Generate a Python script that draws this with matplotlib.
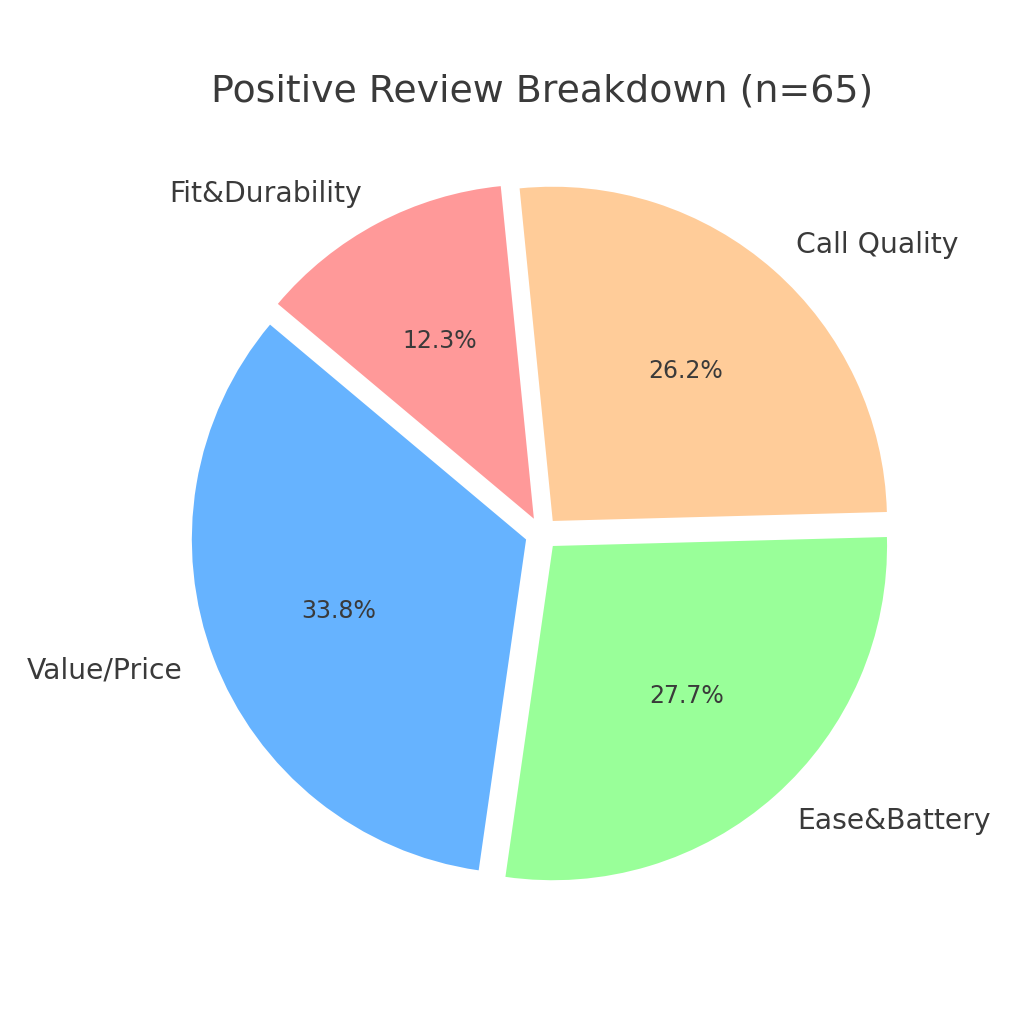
import matplotlib.pyplot as plt

# data
labels = ["Value/Price", "Ease&Battery", "Call Quality", "Fit&Durability"]
counts = [22, 18, 17, 8]
colors = ["#66b3ff", "#99ff99", "#ffcc99", "#ff9999"]
explode = [0.05, 0.05, 0.05, 0.05]

TEXT = "#3a3a3a"

fig = plt.figure(figsize=(10.24, 10.24), dpi=100)
ax = fig.add_axes([0.121, 0.071, 0.816, 0.816])

wedges, texts, autotexts = ax.pie(
    counts,
    labels=labels,
    colors=colors,
    explode=explode,
    startangle=140,
    autopct="%1.1f%%",
    textprops={"fontsize": 20.3, "color": TEXT},
)
for t in autotexts:
    t.set_fontsize(17)

ax.set_aspect("equal")
fig.suptitle("Positive Review Breakdown (n=65)", fontsize=27.3, color=TEXT,
             x=0.529, y=0.928)

fig.savefig("out.png", dpi=100)
